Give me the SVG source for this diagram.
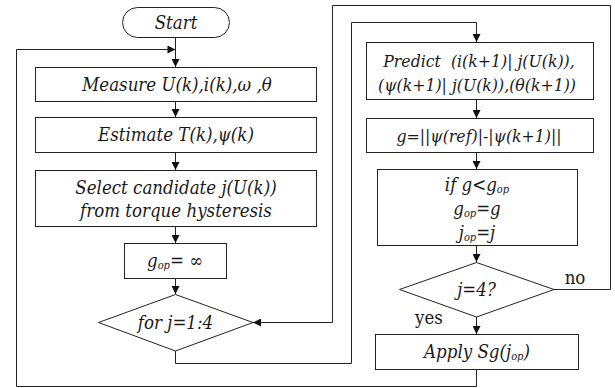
<svg xmlns="http://www.w3.org/2000/svg" width="615" height="388" viewBox="0 0 615 388">
  <style>
    .box { fill: #fff; stroke: #222; stroke-width: 1; }
    .wire { fill: none; stroke: #222; stroke-width: 1; }
    text { font-family: 'DejaVu Serif Condensed', 'DejaVu Serif', serif; font-stretch: condensed; font-style: italic; font-size: 18.5px; fill: #1a1a1a; text-anchor: middle; }
    .up { font-style: normal; }
    .sm { font-size: 17.5px; }
    .sub { font-size: 11px; }
  </style>
  <defs>
    <marker id="arrow" viewBox="0 0 10 10" refX="10" refY="5" markerWidth="9" markerHeight="8" markerUnits="userSpaceOnUse" orient="auto">
      <path d="M0,0 L10,5 L0,10 z" fill="#111"/>
    </marker>
  </defs>

  <!-- connectors -->
  <g id="connectors">
    <path class="wire" d="M175.5,37 V67" marker-end="url(#arrow)"/>
    <path class="wire" d="M476.5,369 V386.5 H16.5 V49.5 H175.5" marker-end="url(#arrow)"/>
    <path class="wire" d="M175.5,102 V117" marker-end="url(#arrow)"/>
    <path class="wire" d="M175.5,152 V170" marker-end="url(#arrow)"/>
    <path class="wire" d="M175.5,227 V243" marker-end="url(#arrow)"/>
    <path class="wire" d="M175.5,278 V294" marker-end="url(#arrow)"/>
    <path class="wire" d="M175.5,351 V363.5 H351.5 V22.5 H476.5 V42" marker-end="url(#arrow)"/>
    <path class="wire" d="M476.5,99 V118" marker-end="url(#arrow)"/>
    <path class="wire" d="M476.5,153 V169" marker-end="url(#arrow)"/>
    <path class="wire" d="M476.5,245 V262" marker-end="url(#arrow)"/>
    <path class="wire" d="M476.5,317 V334" marker-end="url(#arrow)"/>
    <path class="wire" d="M554,289.5 H610.5 V5.5 H332.5 V322.5 H253" marker-end="url(#arrow)"/>
  </g>

  <g id="start">
    <rect class="box" x="122.5" y="7.5" width="107" height="30" rx="15" ry="15"/>
    <text x="176" y="29">Start</text>
  </g>

  <g id="measure">
    <rect class="box" x="35.5" y="67.5" width="281" height="34"/>
    <text x="177" y="91">Measure U(k),i(k),ω ,θ</text>
  </g>

  <g id="estimate">
    <rect class="box" x="35.5" y="117.5" width="281" height="35"/>
    <text x="176" y="141">Estimate T(k),ψ(k)</text>
  </g>

  <g id="select">
    <rect class="box" x="35.5" y="170.5" width="281" height="56"/>
    <text x="176" y="194">Select candidate j(U(k))</text>
    <text x="176" y="217">from torque hysteresis</text>
  </g>

  <g id="init">
    <rect class="box" x="124.5" y="243.5" width="102" height="35"/>
    <text x="175" y="267">g<tspan class="sub" dy="2">op</tspan><tspan class="up" dy="-2">= ∞</tspan></text>
  </g>

  <g id="loop">
    <polygon class="box" points="98.5,322.5 175.5,294.5 253,322.5 175.5,351"/>
    <text x="175.5" y="329">for j=1:4</text>
  </g>

  <g id="predict">
    <rect class="box" x="366.5" y="42.5" width="227" height="57"/>
    <text class="sm" x="479" y="67" xml:space="preserve">Predict  (i(k+1)<tspan class="up">|</tspan> j(U(k)),</text>
    <text class="sm" x="477" y="91">(ψ(k+1)<tspan class="up">|</tspan> j(U(k)),(θ(k+1))</text>
  </g>

  <g id="cost">
    <rect class="box" x="366.5" y="118.5" width="227" height="34"/>
    <text class="sm" x="479" y="142">g=<tspan class="up">||</tspan>ψ(ref)<tspan class="up">|-|</tspan>ψ(k+1)<tspan class="up">||</tspan></text>
  </g>

  <g id="compare">
    <rect class="box" x="377.5" y="169.5" width="200" height="76"/>
    <text x="477" y="191">if g&lt;g<tspan class="sub" dy="2">op</tspan></text>
    <text x="477" y="215">g<tspan class="sub" dy="2">op</tspan><tspan dy="-2">=g</tspan></text>
    <text x="477" y="239">j<tspan class="sub" dy="2">op</tspan><tspan dy="-2">=j</tspan></text>
  </g>

  <g id="check">
    <polygon class="box" points="399.5,289.5 476.5,262.5 554,289.5 476.5,317"/>
    <text x="476.5" y="296">j=4?</text>
    <text class="up" x="429" y="324">yes</text>
    <text class="up" x="575" y="284">no</text>
  </g>

  <g id="apply">
    <rect class="box" x="375.5" y="334.5" width="203" height="35"/>
    <text x="477" y="358">Apply Sg(j<tspan class="sub" dy="2">op</tspan><tspan dy="-2">)</tspan></text>
  </g>
</svg>
